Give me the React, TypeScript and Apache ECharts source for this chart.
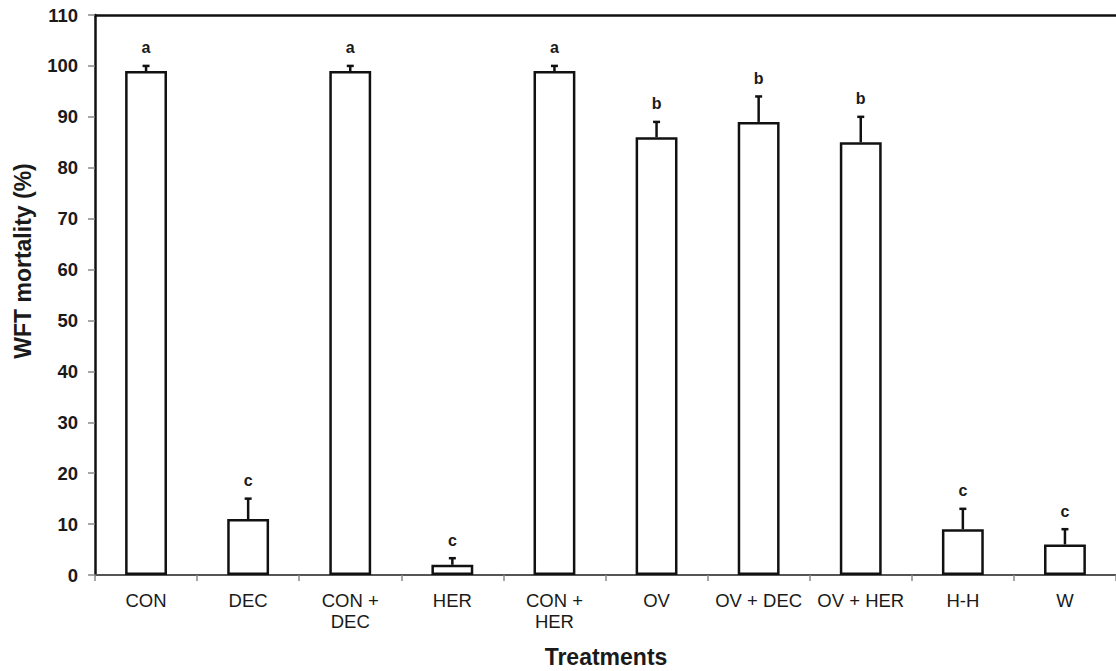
import React, { useEffect, useRef } from "react";
import * as echarts from "echarts";

const categories = ["CON", "DEC", "CON +\nDEC", "HER", "CON +\nHER", "OV", "OV + DEC", "OV + HER", "H-H", "W"];
const mortality = [99, 11, 99, 2, 99, 86, 89, 85, 9, 6];
const errors = [1, 4, 1, 1.3, 1, 3, 5, 5, 4, 3];
const letters = ["a", "c", "a", "c", "a", "b", "b", "b", "c", "c"];
const yTicks = { min: 0, max: 110, interval: 10 };
const yTitle = "WFT mortality (%)";
const xTitle = "Treatments";

const FONT = '"Liberation Sans", Arial, sans-serif';
const INK = "#1a1a1a";

export default function App() {
  const ref = useRef<HTMLDivElement>(null);
  useEffect(() => {
    if (!ref.current) return;
    const chart = echarts.init(ref.current, null, { renderer: "svg" });
    chart.setOption({
      animation: false,
      backgroundColor: "#ffffff",
      grid: { left: 95, right: -7, top: 15, bottom: 96 },
      graphic: [
        {
          type: "text",
          x: 23,
          y: 261,
          rotation: Math.PI / 2,
          style: {
            text: yTitle,
            fill: INK,
            font: `bold 23px ${FONT}`,
            align: "center",
            verticalAlign: "middle",
          },
        },
        {
          type: "text",
          x: 606,
          y: 657,
          style: {
            text: xTitle,
            fill: INK,
            font: `bold 23px ${FONT}`,
            align: "center",
            verticalAlign: "middle",
          },
        },
      ],
      xAxis: [
        {
          type: "category",
          data: categories,
          boundaryGap: true,
          axisLine: { lineStyle: { color: "#555", width: 2 } },
          axisTick: { show: true, length: 6, lineStyle: { color: "#888", width: 1.5 } },
          axisLabel: { fontFamily: FONT, fontSize: 18.5, color: INK, margin: 15, lineHeight: 21, interval: 0 },
        },
        {
          type: "category",
          data: categories,
          position: "top",
          axisLine: { show: true, lineStyle: { color: "#111", width: 2.5 } },
          axisTick: { show: false },
          axisLabel: { show: false },
        },
      ],
      yAxis: {
        type: "value",
        min: yTicks.min,
        max: yTicks.max,
        interval: yTicks.interval,
        axisLine: { show: true, lineStyle: { color: "#111", width: 2.5 } },
        axisTick: { show: true, length: 7, lineStyle: { color: "#888", width: 1.5 } },
        axisLabel: { fontFamily: FONT, fontSize: 18.5, fontWeight: "bold", color: INK, margin: 17 },
        splitLine: { show: false },
      },
      series: [
        {
          type: "bar",
          data: mortality,
          barWidth: "41%",
          itemStyle: { color: "#ffffff", borderColor: "#111", borderWidth: 2.5 },
          z: 2,
        },
        {
          type: "custom",
          z: 3,
          data: mortality.map((v, i) => [i, v, errors[i]]),
          renderItem: (params: any, api: any) => {
            const i = api.value(0);
            const v = api.value(1);
            const e = api.value(2);
            const top = api.coord([i, v + e]);
            const base = api.coord([i, v]);
            const cap = 3.5;
            return {
              type: "group",
              children: [
                {
                  type: "line",
                  shape: { x1: top[0], y1: base[1], x2: top[0], y2: top[1] },
                  style: { stroke: "#111", lineWidth: 2.5 },
                },
                {
                  type: "line",
                  shape: { x1: top[0] - cap, y1: top[1], x2: top[0] + cap, y2: top[1] },
                  style: { stroke: "#111", lineWidth: 2.5 },
                },
                {
                  type: "text",
                  x: top[0],
                  y: top[1] - 10,
                  style: {
                    text: letters[params.dataIndex],
                    fill: INK,
                    font: `bold 16px ${FONT}`,
                    align: "center",
                    verticalAlign: "bottom",
                  },
                },
              ],
            };
          },
        },
      ],
    });
    return () => chart.dispose();
  }, []);
  return <div ref={ref} style={{ position: "absolute", left: 0, top: 0, width: 1116, height: 671 }} />;
}
